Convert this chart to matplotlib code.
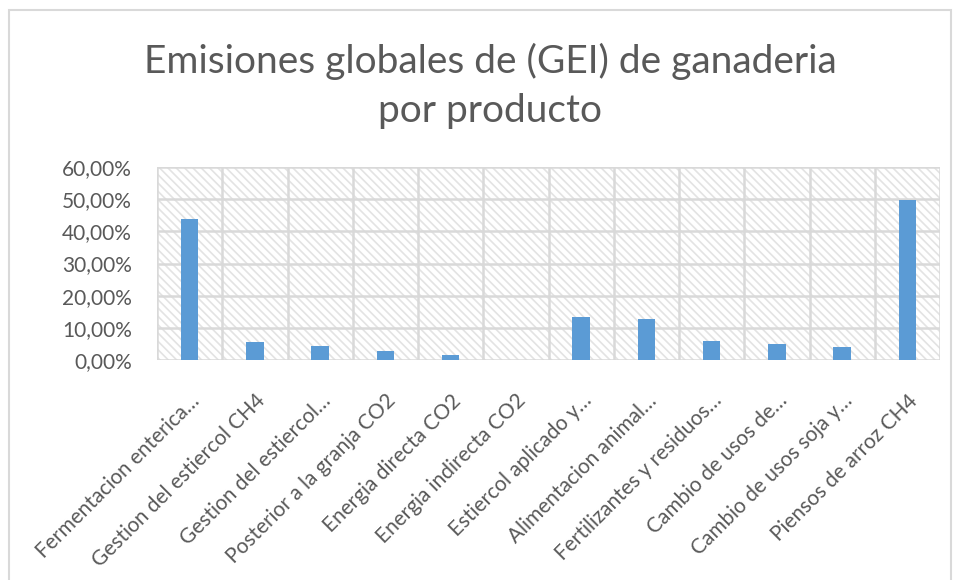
import matplotlib
matplotlib.use('Agg')
import matplotlib.pyplot as plt
from matplotlib.patches import Rectangle
from matplotlib.ticker import FuncFormatter

plt.rcParams['font.family'] = ['Lato', 'DejaVu Sans']
plt.rcParams['hatch.linewidth'] = 1.2

# datos
categorias = ['Fermentacion enterica…', 'Gestion del estiercol CH4', 'Gestion del estiercol…',
              'Posterior a la granja CO2', 'Energia directa CO2', 'Energia indirecta CO2',
              'Estiercol aplicado y…', 'Alimentacion animal…', 'Fertilizantes y residuos…',
              'Cambio de usos de…', 'Cambio de usos soja y…', 'Piensos de arroz CH4']
valores = [0.438, 0.057, 0.044, 0.028, 0.016, 0.0,
           0.134, 0.129, 0.059, 0.050, 0.039, 0.498]
yticks = [0, 0.1, 0.2, 0.3, 0.4, 0.5, 0.6]

gris = '#595959'
linea = '#d9d9d9'

fig = plt.figure(figsize=(9.54, 5.80), dpi=100)
fig.patches.append(Rectangle((9 / 954, -0.01), 942 / 954, 1 - 10 / 580 + 0.01,
                             transform=fig.transFigure, fill=False,
                             edgecolor=linea, linewidth=1.5))

ax = fig.add_axes([157 / 954, 1 - 360 / 580, (940 - 157) / 954, (360 - 167) / 580])

# fondo rayado
ax.add_patch(Rectangle((0, 0), 1, 1, transform=ax.transAxes, facecolor='white',
                       edgecolor='#e3e3e3', hatch='\\' * 4, linewidth=0, zorder=0))

x = range(len(categorias))
ax.bar(x, valores, width=0.27, color='#5b9bd5', zorder=3)

ax.set_xlim(-0.5, len(categorias) - 0.5)
ax.set_ylim(0, 0.6)
ax.set_yticks(yticks)
ax.yaxis.set_major_formatter(FuncFormatter(lambda v, p: f'{v * 100:.2f}%'.replace('.', ',')))
for t in yticks:
    ax.axhline(t, color=linea, linewidth=1.8, zorder=1)
for b in range(len(categorias) + 1):
    ax.axvline(b - 0.5, color=linea, linewidth=1.8, zorder=1)

ax.set_xticks(list(x))
ax.set_xticklabels(categorias, rotation=45, ha='right', rotation_mode='anchor')
ax.tick_params(axis='both', length=0, labelsize=15, colors=gris)
ax.tick_params(axis='x', pad=22)
ax.tick_params(axis='y', pad=18)
for s in ax.spines.values():
    s.set_visible(False)

fig.text(490 / 954, 1 - 86 / 580, 'Emisiones globales de (GEI) de ganaderia\npor producto',
         ha='center', va='center', fontsize=28, color=gris, linespacing=1.45)

fig.savefig('out.png', dpi=100)
